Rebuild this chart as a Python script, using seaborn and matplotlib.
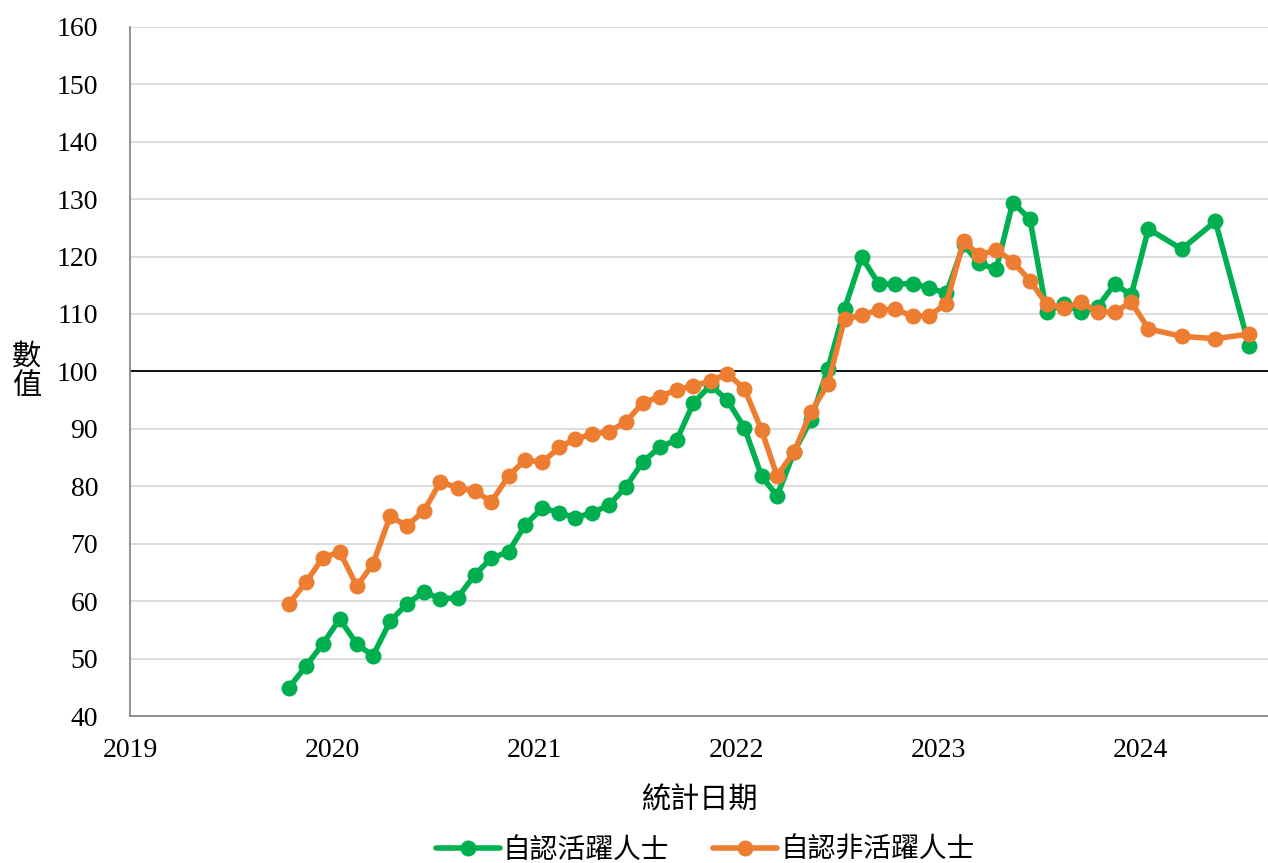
import pandas as pd
import matplotlib
matplotlib.use("Agg")
import matplotlib.pyplot as plt
import matplotlib.dates as mdates
import seaborn as sns

# monthly from Oct 2019 to Dec 2023, then every other month in 2024
months = list(pd.date_range("2019-10-01", "2023-12-01", freq="MS")) + \
    list(pd.to_datetime(["2024-01-01", "2024-03-01", "2024-05-01", "2024-07-01"]))
dates = [d + pd.Timedelta(days=14) for d in months]

active = [44.9, 48.7, 52.5, 56.9, 52.5, 50.5, 56.5, 59.5, 61.6, 60.4,
          60.6, 64.6, 67.5, 68.6, 73.3, 76.2, 75.4, 74.5, 75.4, 76.7,
          79.9, 84.2, 86.8, 88.1, 94.5, 97.6, 95.0, 90.2, 81.8, 78.3,
          86.0, 91.5, 100.5, 110.9, 119.9, 115.2, 115.2, 115.3, 114.5, 113.6,
          122.1, 118.8, 117.8, 129.4, 126.5, 110.3, 111.8, 110.3, 111.2, 115.2,
          113.3, 124.8, 121.3, 126.1, 104.4]
inactive = [59.5, 63.3, 67.5, 68.6, 62.6, 66.5, 74.8, 73.1, 75.7, 80.8,
            79.7, 79.2, 77.3, 81.8, 84.6, 84.2, 86.8, 88.2, 89.1, 89.5,
            91.2, 94.5, 95.6, 96.8, 97.5, 98.3, 99.6, 97.0, 89.8, 81.8,
            86.0, 92.9, 97.8, 109.1, 109.8, 110.7, 110.8, 109.6, 109.7, 111.8,
            122.7, 120.2, 121.2, 119.1, 115.8, 111.7, 111.1, 112.0, 110.4, 110.3,
            112.1, 107.4, 106.1, 105.7, 106.5]
series_names = ["自認活躍人士", "自認非活躍人士"]
colors = ["#00B050", "#ED7D31"]

df = pd.DataFrame({"date": dates * 2,
                   "value": active + inactive,
                   "group": [series_names[0]] * len(active) + [series_names[1]] * len(inactive)})

sns.set_style("white")
plt.rcParams["font.family"] = ["Liberation Serif", "Noto Sans CJK TC"]
plt.rcParams["text.color"] = "black"
cjk = ["Noto Sans CJK TC"]

fig = plt.figure(figsize=(12.68, 8.63), dpi=100)
ax = fig.add_axes([0.1025, 0.1703, 0.8975, 0.7987])

sns.lineplot(data=df, x="date", y="value", hue="group", palette=colors,
             marker="o", markersize=11.5, markeredgewidth=0, linewidth=4,
             ax=ax, legend=True)

ax.axhline(100, color="black", linewidth=1.3, zorder=1.5)

ax.set_ylim(40, 160)
ax.set_yticks(range(40, 161, 10))
ax.set_xlim(pd.Timestamp("2019-01-01"), pd.Timestamp("2024-08-18"))
ax.xaxis.set_major_locator(mdates.YearLocator())
ax.xaxis.set_major_formatter(mdates.DateFormatter("%Y"))
ax.grid(axis="y", color="#d9d9d9", linewidth=1.3)
ax.set_axisbelow(True)

for s in ["top", "right"]:
    ax.spines[s].set_visible(False)
for s in ["left", "bottom"]:
    ax.spines[s].set_color("#888888")
    ax.spines[s].set_linewidth(1.3)
ax.tick_params(axis="x", direction="inout", length=12, width=1.3, color="#888888",
               labelcolor="black", labelsize=20, pad=10)
ax.tick_params(axis="y", direction="out", length=6, width=1.3, color="#888888",
               labelcolor="black", labelsize=20, pad=17)

ax.set_xlabel("統計日期", fontsize=21, family=cjk, labelpad=16, color="black")
ax.set_ylabel("數\n值", fontsize=21, family=cjk, rotation=0, color="black",
              va="center", ha="center", linespacing=1.0)
ax.yaxis.set_label_coords(-0.091, 0.5)

handles, labels = ax.get_legend_handles_labels()
ax.get_legend().remove()
fig.legend(handles, labels, loc="center", bbox_to_anchor=(0.556, 0.015),
           ncol=2, frameon=False, prop={"family": cjk, "size": 20},
           handlelength=2.3, handletextpad=0.1, columnspacing=1.6,
           labelcolor="black")

fig.savefig("out.png", dpi=100)
